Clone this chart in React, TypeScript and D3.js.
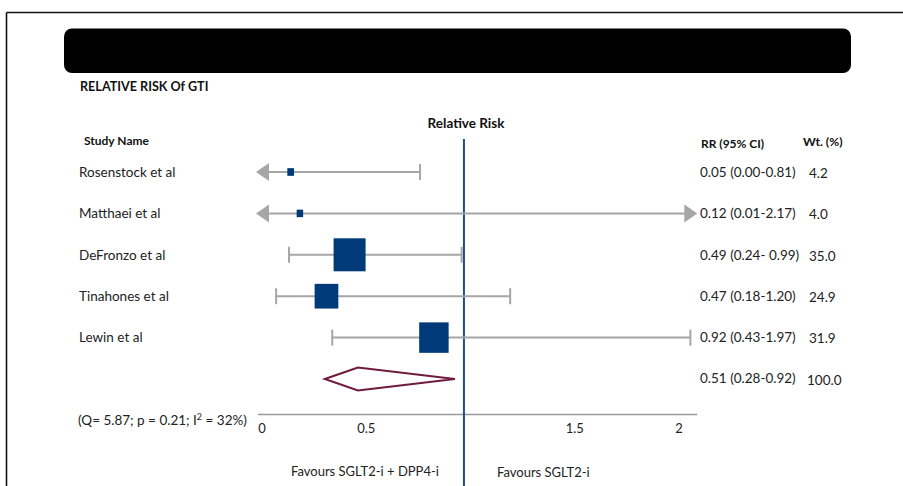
import React from "react";
import * as d3 from "d3";

// ---- Data ----
const studies = ["Rosenstock et al", "Matthaei et al", "DeFronzo et al", "Tinahones et al", "Lewin et al"];
// plotted positions of the marks
const estimates = [0.25, 0.29, 0.505, 0.405, 0.87];
const lowerCI = [0.1, 0.1, 0.243, 0.187, 0.43];
const upperCI = [0.81, 2.01, 0.99, 1.2, 1.98];
const lowerArrow = [true, true, false, false, false];
const upperArrow = [false, true, false, false, false];
const weights = [4.2, 4.0, 35.0, 24.9, 31.9];
const rrLabels = ["0.05 (0.00-0.81)", "0.12 (0.01-2.17)", "0.49 (0.24- 0.99)", "0.47 (0.18-1.20)", "0.92 (0.43-1.97)"];
const wtLabels = ["4.2", "4.0", "35.0", "24.9", "31.9"];
// pooled estimate
const pooled = { est: 0.541, lo: 0.398, hi: 0.961 };
const pooledRR = "0.51 (0.28-0.92)";
const pooledWt = "100.0";
const tickValues = [0, 0.5, 1.5, 2];
const tickLabels = ["0", "0.5", "1.5", "2"];
const axisDomain = [0.1, 2.01];

const W = 903;
const H = 486;
const FONT = "Lato, 'Open Sans', sans-serif";

export default function App() {
  const x = d3.scaleLinear().domain([0.1, 2]).range([256, 695]);
  const labelX = d3.scaleLinear().domain([0, 2]).range([262, 679]);
  const y = d3.scaleLinear().domain([0, 5]).range([172, 379]);
  const size = d3.scaleLinear().domain([4, 35]).range([6.5, 32]);

  const ciColor = "#a6a6a6";
  const sqColor = "#003a78";
  const lineBlue = "#1f4e8c";
  const diamondColor = "#6e1b3c";

  const diamondPath = d3.line()([
    [x(pooled.lo), y(5)],
    [x(pooled.est), y(5) - 11.5],
    [x(pooled.hi), y(5)],
    [x(pooled.est), y(5) + 11.5],
  ]) + "Z";

  return (
    <svg
      width={W}
      height={H}
      style={{ position: "absolute", left: 0, top: 0, display: "block", background: "#fff" }}
      fontFamily={FONT}
    >
      {/* frame */}
      <line x1={6.5} y1={12.5} x2={W} y2={12.5} stroke="#111" strokeWidth={1.6} />
      <line x1={6.5} y1={12.5} x2={6.5} y2={H} stroke="#111" strokeWidth={1.6} />
      {/* black title bar */}
      <rect x={64} y={28.5} width={787} height={44.5} rx={8} fill="#000" />

      <text x={80} y={91} fontSize={12.6} fontWeight="bold" fill="#111">RELATIVE RISK Of GTI</text>
      <text x={466} y={128} fontSize={13.5} fontWeight="bold" textAnchor="middle" fill="#111">Relative Risk</text>
      <text x={84} y={145} fontSize={12} fontWeight="bold" fill="#111">Study Name</text>
      <text x={701} y={147.5} fontSize={12} fontWeight="bold" fill="#111">RR (95% CI)</text>
      <text x={803} y={145.5} fontSize={12.2} fontWeight="bold" fill="#111">Wt. (%)</text>

      {/* axis line */}
      <line x1={x(axisDomain[0]) + 2} y1={414.5} x2={x(axisDomain[1])} y2={414.5} stroke="#999" strokeWidth={1.4} />
      {tickValues.map((v, i) => (
        <text key={v} x={labelX(v)} y={433} fontSize={13} textAnchor="middle" fill="#222">{tickLabels[i]}</text>
      ))}

      {/* reference line at 1 */}
      <line x1={x(1)} y1={139} x2={x(1)} y2={H} stroke={lineBlue} strokeWidth={2} />

      {/* studies */}
      {studies.map((s, i) => {
        const cy = y(i);
        const lo = x(lowerCI[i]);
        const hi = x(upperCI[i]);
        const sz = size(weights[i]);
        const loEnd = lowerArrow[i] ? lo + 12 : lo;
        const hiEnd = upperArrow[i] ? hi - 12 : hi;
        return (
          <g key={s}>
            <text x={79} y={cy} dy="0.35em" fontSize={13.5} fill="#222">{s}</text>
            <line x1={loEnd} y1={cy} x2={hiEnd} y2={cy} stroke={ciColor} strokeWidth={2} />
            {lowerArrow[i] ? (
              <path d={`M${lo},${cy}L${lo + 13},${cy - 9}L${lo + 13},${cy + 9}Z`} fill={ciColor} />
            ) : (
              <line x1={lo} y1={cy - 8} x2={lo} y2={cy + 8} stroke={ciColor} strokeWidth={2} />
            )}
            {upperArrow[i] ? (
              <path d={`M${hi},${cy}L${hi - 13},${cy - 9}L${hi - 13},${cy + 9}Z`} fill={ciColor} />
            ) : (
              <line x1={hi} y1={cy - 8} x2={hi} y2={cy + 8} stroke={ciColor} strokeWidth={2} />
            )}
            <rect x={x(estimates[i]) - sz / 2} y={cy - sz / 2 - 0.5} width={sz} height={sz + 1} fill={sqColor} />
            <text x={700} y={cy} dy="0.35em" fontSize={13.5} fill="#222">{rrLabels[i]}</text>
            <text x={809} y={cy + 1} dy="0.35em" fontSize={13.5} fill="#222">{wtLabels[i]}</text>
          </g>
        );
      })}

      {/* pooled */}
      <path d={diamondPath} fill="none" stroke={diamondColor} strokeWidth={2} strokeLinejoin="miter" />
      <text x={700} y={y(5) - 1} dy="0.35em" fontSize={13.5} fill="#222">{pooledRR}</text>
      <text x={807} y={y(5) + 1} dy="0.35em" fontSize={13.5} fill="#222">{pooledWt}</text>

      <text x={78} y={420} dy="0.35em" fontSize={13.5} fill="#222">
        (Q= 5.87; p = 0.21; I<tspan dy="-5" fontSize={9}>2</tspan><tspan dy="5"> = 32%)</tspan>
      </text>

      <text x={291} y={471} dy="0.35em" fontSize={13} fill="#222">Favours SGLT2-i + DPP4-i</text>
      <text x={497} y={472} dy="0.35em" fontSize={13} fill="#222">Favours SGLT2-i</text>
    </svg>
  );
}
